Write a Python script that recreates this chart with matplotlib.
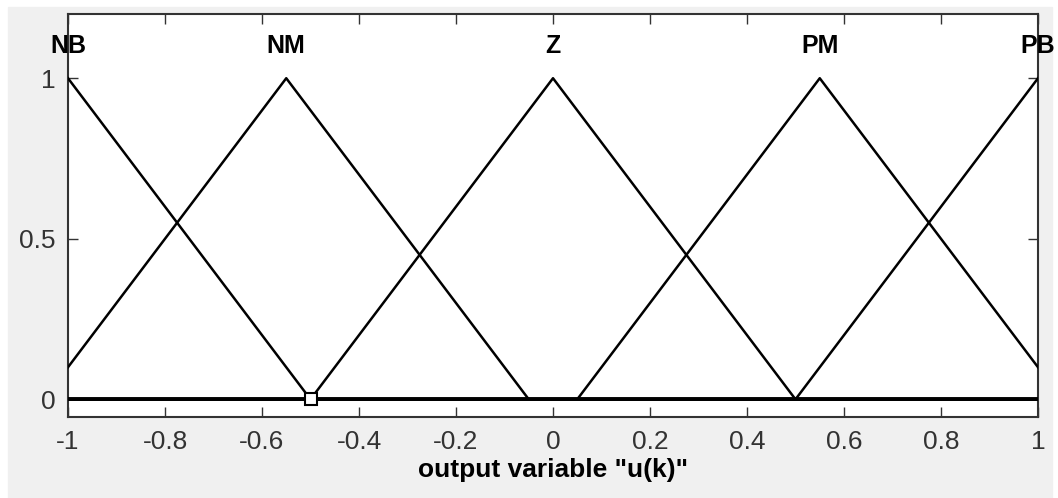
import numpy as np
import matplotlib.pyplot as plt
from matplotlib.patches import Rectangle

# membership functions of output u(k): triangle params [a, b, c]
mf_names = ["NB", "NM", "Z", "PM", "PB"]
mf_a = [-1.5, -1.05, -0.5, 0.05, 0.5]
mf_b = [-1.0, -0.55, 0.0, 0.55, 1.0]
mf_c = [-0.5, -0.05, 0.5, 1.05, 1.5]

x_ticks = [-1, -0.8, -0.6, -0.4, -0.2, 0, 0.2, 0.4, 0.6, 0.8, 1]
x_labels = ["-1", "-0.8", "-0.6", "-0.4", "-0.2", "0", "0.2", "0.4", "0.6", "0.8", "1"]
y_ticks = [0, 0.5, 1]
y_labels = ["0", "0.5", "1"]

plt.rcParams['font.family'] = ['Liberation Sans', 'DejaVu Sans']

fig = plt.figure(figsize=(10.58, 4.98), dpi=100, facecolor='white')
# grey panel like the matlab window
fig.patches.append(Rectangle((8 / 1058, 0), 1044 / 1058, 491 / 498,
                             transform=fig.transFigure, color='#f0f0f0', zorder=-10))
ax = fig.add_axes([68 / 1058, 1 - 417 / 498, 970 / 1058, 403 / 498])
ax.set_facecolor('white')

x = np.linspace(-1, 1, 2001)
for name, a, b, c in zip(mf_names, mf_a, mf_b, mf_c):
    y = np.maximum(np.minimum((x - a) / (b - a), (c - x) / (c - b)), 0)
    ax.plot(x, y, color='black', lw=1.8, zorder=3)
    ax.text(b, 1.1, name, ha='center', va='center', fontsize=18, fontweight='bold')

# zero line is drawn thicker where the curves overlap
ax.plot([-1, 1], [0, 0], color='black', lw=2.8, zorder=3)
ax.plot([-0.5], [0], marker='s', ms=8, mfc='white', mec='black', mew=1.5, zorder=4)

ax.set_xlim(-1, 1)
ax.set_ylim(-0.055, 1.2)
ax.set_xticks(x_ticks)
ax.set_xticklabels(x_labels)
ax.set_yticks(y_ticks)
ax.set_yticklabels(y_labels)
ax.tick_params(direction='in', length=7, width=1, labelsize=19, colors='#333333',
               top=True, right=True, labelcolor='#333333', pad=9)
for s in ax.spines.values():
    s.set_linewidth(1.5)
    s.set_color('#333333')
ax.set_xlabel('output variable "u(k)"', fontsize=19, fontweight='bold', labelpad=3)

fig.savefig('out.png', dpi=100, facecolor=fig.get_facecolor())
